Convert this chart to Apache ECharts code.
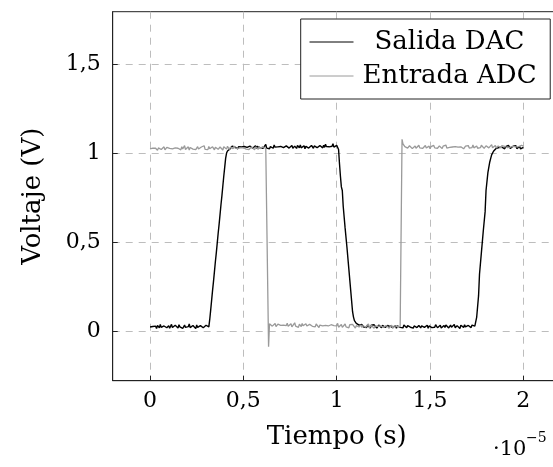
<!DOCTYPE html>
<html>
<head>
<meta charset="utf-8">
<script src="https://cdn.jsdelivr.net/npm/echarts@6/dist/echarts.min.js"></script>
<style>html,body{margin:0;padding:0;background:#fff}#c{width:553px;height:467px}</style>
</head>
<body>
<div id="c"></div>
<script>
// Sample period in units of 1e-5 s (uniform oscilloscope sampling grid)
var sampleStep = 0.005;
var seriesNames = ['Salida DAC', 'Entrada ADC'];
var xTicks = [0, 0.5, 1, 1.5, 2];
var yTicks = [0, 0.5, 1, 1.5];

// Salida DAC (V), one value per sample
var salidaDAC = [
0.024,0.031,0.018,0.027,0.035,0.021,0.029,0.016,0.033,0.025,
0.019,0.038,0.022,0.028,0.014,0.030,0.026,0.036,0.020,0.027,
0.032,0.017,0.024,0.039,0.021,0.029,0.015,0.034,0.023,0.028,
0.019,0.037,0.025,0.020,0.031,0.016,0.027,0.035,0.022,0.030,
0.018,0.026,0.041,0.021,0.029,0.017,0.033,0.024,0.028,0.015,
0.036,0.022,0.027,0.019,0.032,0.025,0.038,0.020,0.029,0.016,
0.034,0.023,0.027,0.025,
0.068,0.12,0.175,0.23,0.28,0.335,0.39,0.44,0.495,0.55,0.6,0.655,0.71,0.76,0.815,0.87,0.92,0.97,1.0,1.012,1.018,1.022,1.025,
1.031,1.038,1.027,1.042,1.033,1.029,1.040,1.024,1.036,1.045,
1.030,1.034,1.026,1.041,1.037,1.028,1.044,1.032,1.035,1.023,
1.039,1.031,1.046,1.027,1.036,1.033,1.041,1.025,1.038,1.030,
1.043,1.029,1.035,1.040,1.026,1.037,1.032,1.048,1.028,1.034,
1.039,1.024,1.036,1.042,1.031,1.027,1.045,1.033,1.038,1.029,
1.035,1.041,1.026,1.037,1.032,1.044,1.030,1.036,1.025,1.040,
1.034,1.047,1.028,1.038,1.031,1.043,1.027,1.035,1.039,1.032,
1.026,1.042,1.036,1.030,1.045,1.029,1.037,1.033,1.041,1.024,
1.038,1.034,1.049,1.028,1.036,1.031,1.043,1.035,1.027,1.040,
1.033,1.046,1.030,1.037,1.025,1.042,1.034,1.039,1.029,1.044,
1.032,1.050,1.036,1.028,1.041,1.035,1.045,1.030,1.038,1.052,
1.033,1.040,1.027,1.043,1.036,
1.02,0.94,0.87,0.81,0.79,0.70,0.69,0.58,0.57,0.47,0.46,0.35,0.34,0.23,0.22,0.11,0.08,0.06,0.05,0.045,0.04,0.038,0.035,
0.033,0.026,0.038,0.029,0.024,0.035,0.030,0.021,0.036,0.027,
0.032,0.019,0.034,0.028,0.023,0.037,0.026,0.031,0.018,0.029,
0.035,0.024,0.030,0.020,0.033,0.027,0.039,0.022,0.028,0.025,
0.034,0.019,0.031,0.026,0.036,0.021,0.029,0.024,0.033,0.017,
0.030,0.026,0.037,0.022,0.028,0.031,0.019,0.035,0.024,0.027,
0.020,0.032,0.029,0.038,0.023,0.026,0.034,0.018,0.030,0.025,
0.036,0.021,0.028,0.033,0.024,0.019,0.031,0.027,0.040,0.022,
0.029,0.025,0.034,0.017,0.030,0.026,0.035,0.021,0.028,0.032,
0.023,0.037,0.026,0.020,0.031,0.027,0.034,0.018,0.029,0.024,
0.033,0.021,0.036,0.026,0.030,0.019,0.028,0.035,0.023,0.031,
0.025,0.038,0.020,0.027,0.032,0.024,0.029,0.016,0.034,0.026,
0.030,0.022,0.037,0.025,0.028,0.019,0.033,0.027,0.031,0.021,
0.035,0.026,0.024,0.029,
0.03,0.08,0.09,0.20,0.32,0.33,0.44,0.45,0.56,0.57,0.67,0.79,0.80,0.89,0.90,0.95,0.97,0.99,1.00,1.01,1.015,1.02,
1.027,1.034,1.022,1.031,1.038,1.025,1.033,1.029,1.040,1.024,
1.036,1.030,1.027,1.043,1.032,1.026,1.035,1.021,1.038,1.031,
1.028,1.041,1.025,1.034,1.030,1.037,1.023,1.033,1.029,1.032
];

// Entrada ADC (V), one value per sample
var entradaADC = [
1.024,1.031,1.017,1.028,1.036,1.021,1.027,1.033,1.015,1.029,
1.025,1.038,1.020,1.030,1.023,1.035,1.018,1.027,1.032,1.022,
1.040,1.026,1.019,1.031,1.024,1.034,1.016,1.029,1.037,1.021,
1.027,1.033,1.025,1.018,1.036,1.023,1.030,1.042,1.020,1.028,
1.024,1.035,1.017,1.031,1.026,1.039,1.022,1.029,1.033,1.019,
1.027,1.036,1.023,1.030,1.015,1.034,1.025,1.028,1.041,1.021,
1.032,1.026,1.019,1.037,1.024,1.030,1.022,1.035,1.027,1.018,
1.033,1.025,1.039,1.021,1.029,1.034,1.023,1.031,1.017,1.036,
1.026,1.030,1.022,1.038,1.027,1.020,1.033,1.025,1.031,1.024,
1.040,1.028,1.021,1.034,1.026,1.032,1.019,1.029,1.036,1.023,
1.030,1.025,1.037,1.022,1.028,1.033,1.020,1.031,1.026,1.035,
1.024,1.029,1.018,1.034,1.027,1.032,1.021,1.038,1.025,1.030,
1.023,1.036,1.027,1.031,1.026,1.033,1.028,
-0.087,
0.042,0.034,0.046,0.029,0.038,0.031,0.044,0.026,0.036,0.040,
0.030,0.047,0.033,0.027,0.041,0.035,0.024,0.039,0.032,0.045,
0.028,0.037,0.034,0.043,0.025,0.036,0.031,0.048,0.029,0.038,
0.033,0.022,0.040,0.035,0.027,0.044,0.031,0.036,0.026,0.042,
0.030,0.037,0.023,0.039,0.033,0.046,0.028,0.034,0.038,0.025,
0.041,0.032,0.036,0.021,0.035,0.029,0.043,0.031,0.027,0.038,
0.033,0.024,0.040,0.030,0.035,0.019,0.037,0.028,0.042,0.032,
0.026,0.036,0.031,0.045,0.023,0.034,0.029,0.038,0.022,0.033,
0.030,0.041,0.025,0.035,0.028,0.020,0.037,0.031,0.026,0.039,
0.029,0.034,0.018,0.032,0.027,0.040,0.024,0.030,0.036,0.021,
0.033,0.028,0.038,0.023,0.031,0.026,0.042,0.019,0.029,0.035,
0.025,0.032,0.017,0.030,0.037,0.024,0.028,0.034,0.021,0.031,
0.026,0.039,0.022,0.029,0.016,0.033,0.027,0.036,0.020,0.030,
0.025,0.034,0.018,0.028,0.032,0.023,0.037,0.026,0.021,0.030,
0.027,0.024,
1.077,1.052,1.043,
1.036,1.031,1.039,1.028,1.034,1.041,1.030,1.037,1.025,1.035,
1.032,1.040,1.027,1.036,1.033,1.044,1.029,1.035,1.038,1.026,
1.034,1.031,1.042,1.028,1.037,1.033,1.039,1.024,1.036,1.030,
1.035,1.043,1.029,1.034,1.038,1.027,1.032,1.040,1.031,1.036,
1.025,1.039,1.033,1.030,1.045,1.028,1.035,1.037,1.032,1.041,
1.026,1.034,1.038,1.030,1.036,1.029,1.043,1.033,1.027,1.040,
1.035,1.031,1.037,1.024,1.034,1.039,1.030,1.036,1.042,1.028,
1.033,1.038,1.031,1.046,1.029,1.035,1.032,1.040,1.027,1.037,
1.034,1.030,1.044,1.033,1.038,1.026,1.036,1.041,1.031,1.035,
1.029,1.039,1.034,1.047,1.030,1.037,1.032,1.043,1.028,1.036,
1.040,1.033,1.035,1.029,1.042,1.037,1.031,1.038,1.034,1.045,
1.030,1.036,1.041,1.033,1.039,1.028,1.037,1.034,1.043,1.035,
1.032,1.040,1.036,1.038,1.031,1.044,1.035,1.039
];

function toPairs(values) {
  return values.map(function (v, i) { return [+(i * sampleStep).toFixed(4), v]; });
}

var FONT = '"DejaVu Serif", "Liberation Serif", serif';
function fmt(v) { return String(v).replace('.', ','); }

var chart = echarts.init(document.getElementById('c'), null, { renderer: 'canvas' });
chart.setOption({
  animation: false,
  backgroundColor: '#fff',
  grid: {
    left: 112.7, top: 11.7, width: 448, height: 369,
    show: true, borderColor: '#222', borderWidth: 1, backgroundColor: 'transparent',
    containLabel: false, outerBoundsMode: 'none'
  },
  legend: {
    orient: 'vertical', left: 300.7, top: 19,
    itemWidth: 44, itemHeight: 14, itemGap: 4,
    padding: [8, 13.7, 8, 8.3],
    borderColor: '#222', borderWidth: 1, backgroundColor: '#fff',
    data: seriesNames,
    itemStyle: { color: 'transparent', borderColor: 'transparent', borderWidth: 0, opacity: 0 },
    lineStyle: { width: 1 },
    formatter: function (n) { return n === seriesNames[0] ? '{a|' + n + '}' : '{b|' + n + '}'; },
    textStyle: {
      fontFamily: FONT, fontSize: 26, color: '#000', lineHeight: 30,
      rich: {
        a: { fontFamily: FONT, fontSize: 26, color: '#000', lineHeight: 30, padding: [0, 0, 0, 16] },
        b: { fontFamily: FONT, fontSize: 26, color: '#000', lineHeight: 30, padding: [0, 0, 0, 4] }
      }
    }
  },
  xAxis: {
    type: 'value', min: -0.2, max: 2.2,
    name: 'Tiempo (s)', nameLocation: 'middle', nameGap: 44,
    nameTextStyle: { fontFamily: FONT, fontSize: 26, color: '#000' },
    axisLine: { show: true, onZero: false, lineStyle: { color: '#222', width: 1 } },
    axisTick: { show: true, inside: true, length: 5, customValues: xTicks, lineStyle: { color: '#222' } },
    axisLabel: { customValues: xTicks, margin: 10, fontFamily: FONT, fontSize: 22, color: '#000', formatter: fmt },
    splitLine: { show: true, lineStyle: { color: '#bdbdbd', type: [7, 6], width: 1 } }
  },
  yAxis: {
    type: 'value', min: -0.277, max: 1.793,
    name: 'Voltaje (V)', nameLocation: 'middle', nameGap: 66, nameRotate: 90,
    nameTextStyle: { fontFamily: FONT, fontSize: 26, color: '#000' },
    axisLine: { show: true, onZero: false, lineStyle: { color: '#222', width: 1 } },
    axisTick: { show: true, inside: true, length: 5, customValues: yTicks, lineStyle: { color: '#222' } },
    axisLabel: { customValues: yTicks, margin: 12, fontFamily: FONT, fontSize: 22, color: '#000', formatter: fmt },
    splitLine: { show: true, lineStyle: { color: '#bdbdbd', type: [7, 6], width: 1 } }
  },
  graphic: [
    { type: 'text', left: 493, top: 439, style: { text: '·10', font: '21px "DejaVu Serif"', fill: '#000' } },
    { type: 'text', left: 526, top: 431, style: { text: '−5', font: '14px "DejaVu Serif"', fill: '#000' } }
  ],
  series: [
    { name: seriesNames[0], type: 'line', data: toPairs(salidaDAC), symbol: 'none', showSymbol: false,
      lineStyle: { color: '#000', width: 1.4 }, itemStyle: { color: '#000' }, z: 2 },
    { name: seriesNames[1], type: 'line', data: toPairs(entradaADC), symbol: 'none', showSymbol: false,
      lineStyle: { color: '#9a9a9a', width: 1.3 }, itemStyle: { color: '#9a9a9a' }, z: 3 }
  ]
});
</script>
</body>
</html>
